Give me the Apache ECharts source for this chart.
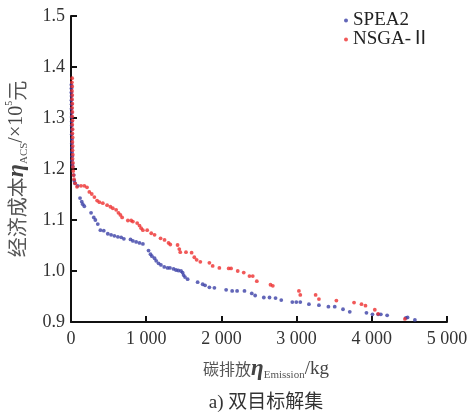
<!DOCTYPE html>
<html>
<head>
<meta charset="utf-8">
<script src="https://cdn.jsdelivr.net/npm/echarts@6/dist/echarts.min.js"></script>
<style>
  html, body { margin: 0; padding: 0; background: #fff; }
  #chart { width: 470px; height: 414px; }
</style>
</head>
<body>
<div id="chart"></div>
<script>
// Pareto fronts: carbon emission (kg) vs economic cost (x10^5 yuan)
const seriesNames = ['SPEA2', 'NSGA-Ⅱ'];

const spea2Points = [
  [5,1.365],[6,1.358],[5,1.350],[7,1.343],[6,1.335],[8,1.327],[7,1.318],[9,1.310],
  [8,1.302],[10,1.293],[9,1.285],[11,1.277],[10,1.268],[12,1.258],[11,1.250],[13,1.242],
  [12,1.233],[15,1.225],[14,1.217],[18,1.210],[23,1.205],[36,1.188],[44,1.177],[53,1.172],
  [89,1.167],[120,1.143],[143,1.136],[156,1.131],[177,1.127],[267,1.114],[303,1.105],
  [324,1.100],[356,1.092],[391,1.080],[436,1.079],[489,1.073],[533,1.071],[577,1.069],
  [623,1.067],[667,1.066],[703,1.063],[791,1.062],[823,1.059],[867,1.057],[911,1.055],
  [956,1.053],[1031,1.040],[1057,1.033],[1076,1.029],[1111,1.025],[1133,1.020],[1164,1.015],
  [1196,1.012],[1240,1.008],[1284,1.006],[1316,1.006],[1364,1.004],[1396,1.002],[1427,1.001],
  [1463,1.000],[1484,0.997],[1497,0.992],[1516,0.988],[1551,0.984],[1684,0.978],[1751,0.974],
  [1783,0.972],[1840,0.968],[1907,0.967],[2063,0.963],[2143,0.961],[2209,0.961],[2307,0.961],
  [2404,0.956],[2449,0.952],[2564,0.948],[2640,0.948],[2720,0.947],[2796,0.943],[2943,0.939],
  [2996,0.939],[3049,0.939],[3164,0.935],[3297,0.933],[3423,0.930],[3507,0.930],[3617,0.925],
  [3707,0.920],[3929,0.918],[4009,0.915],[4084,0.915],[4120,0.915],[4204,0.913],[4453,0.908],
  [4476,0.909],[4573,0.904]
];

const nsga2Points = [
  [15,1.378],[12,1.370],[16,1.362],[13,1.353],[17,1.345],[14,1.337],[18,1.328],[15,1.320],
  [19,1.312],[16,1.303],[20,1.295],[17,1.287],[21,1.278],[18,1.270],[22,1.262],[19,1.253],
  [23,1.245],[20,1.237],[24,1.228],[21,1.220],[26,1.212],[25,1.204],[30,1.196],[34,1.188],
  [40,1.180],[55,1.172],[80,1.165],[133,1.167],[177,1.167],[213,1.164],[244,1.155],[276,1.151],
  [311,1.145],[347,1.138],[377,1.135],[423,1.133],[480,1.129],[524,1.126],[556,1.123],
  [600,1.120],[631,1.114],[657,1.110],[680,1.105],[756,1.099],[800,1.099],[823,1.097],
  [880,1.094],[911,1.089],[933,1.084],[956,1.080],[1013,1.080],[1067,1.074],[1111,1.071],
  [1191,1.064],[1244,1.061],[1297,1.055],[1320,1.052],[1417,1.051],[1440,1.043],[1453,1.037],
  [1529,1.037],[1604,1.036],[1640,1.027],[1671,1.022],[1720,1.018],[1840,1.016],[1884,1.010],
  [1973,1.006],[2097,1.005],[2129,1.005],[2217,1.000],[2297,0.997],[2373,0.990],[2417,0.990],
  [2471,0.980],[2653,0.973],[2684,0.971],[3031,0.961],[3049,0.953],[3253,0.953],[3297,0.945],
  [3529,0.942],[3764,0.938],[3863,0.935],[3916,0.932],[4040,0.924],[4084,0.916],[4440,0.906]
];

const xTickLabels = ['0', '1 000', '2 000', '3 000', '4 000', '5 000'];
const yTickLabels = ['0.9', '1.0', '1.1', '1.2', '1.3', '1.4', '1.5'];

const SERIF = '"Liberation Serif", "Times New Roman", "Noto Sans CJK SC", serif';
const CJK = '"Noto Sans CJK SC", sans-serif';

const chart = echarts.init(document.getElementById('chart'));
chart.setOption({
  animation: false,
  backgroundColor: '#ffffff',
  grid: { left: 71, right: 23, top: 16, bottom: 92, containLabel: false, outerBoundsMode: 'none' },
  legend: {
    orient: 'vertical',
    left: 339, top: 6,
    itemGap: 0, itemWidth: 4, itemHeight: 4,
    icon: 'circle',
    textStyle: { fontFamily: SERIF, fontSize: 19, color: '#222', lineHeight: 18 },
    data: seriesNames
  },
  xAxis: {
    type: 'value', min: 0, max: 5000, interval: 1000,
    axisLine: { show: true, lineStyle: { color: '#111', width: 2 } },
    axisTick: { show: true, inside: true, length: 6, lineStyle: { color: '#111', width: 2 } },
    splitLine: { show: false },
    axisLabel: {
      margin: 8, fontFamily: SERIF, fontSize: 18, color: '#333',
      formatter: (v) => xTickLabels[Math.round(v / 1000)]
    },
    name: '{c|碳排放}{e|η}{s|Emission}{u|/kg}',
    nameLocation: 'middle', nameGap: 35,
    nameTextStyle: {
      padding: [0, 0, 0, 14],
      rich: {
        c: { fontFamily: CJK, fontSize: 16, color: '#555', lineHeight: 24 },
        e: { fontFamily: SERIF, fontStyle: 'italic', fontWeight: 'bold', fontSize: 23, color: '#444', lineHeight: 24 },
        s: { fontFamily: SERIF, fontSize: 11, color: '#555', lineHeight: 14, verticalAlign: 'bottom' },
        u: { fontFamily: SERIF, fontSize: 19, color: '#444', lineHeight: 24 }
      }
    }
  },
  yAxis: {
    type: 'value', min: 0.9, max: 1.5, interval: 0.1,
    axisLine: { show: true, lineStyle: { color: '#111', width: 2 } },
    axisTick: { show: true, inside: true, length: 6, lineStyle: { color: '#111', width: 2 } },
    splitLine: { show: false },
    axisLabel: {
      margin: 6, fontFamily: SERIF, fontSize: 18, color: '#333',
      formatter: (v) => yTickLabels[Math.round((v - 0.9) * 10)]
    },
    name: '{c|经济成本}{e|η}{s|ACS}{u|/×10}{p|5}{c|元}',
    nameLocation: 'middle', nameRotate: 90, nameGap: 41,
    nameTextStyle: {
      rich: {
        c: { fontFamily: CJK, fontSize: 20, color: '#555', lineHeight: 26 },
        e: { fontFamily: SERIF, fontStyle: 'italic', fontWeight: 'bold', fontSize: 24, color: '#444', lineHeight: 26 },
        s: { fontFamily: SERIF, fontSize: 11, color: '#555', lineHeight: 16, verticalAlign: 'bottom' },
        u: { fontFamily: SERIF, fontSize: 20, color: '#444', lineHeight: 26 },
        p: { fontFamily: SERIF, fontSize: 10, color: '#444', lineHeight: 16, verticalAlign: 'top' }
      }
    }
  },
  graphic: [{
    type: 'text', x: 266, y: 403,
    style: {
      text: 'a) 双目标解集',
      font: '19px "Liberation Serif", "Noto Sans CJK SC", serif',
      fill: '#333',
      align: 'center',
      verticalAlign: 'middle'
    }
  }],
  series: [
    {
      name: seriesNames[0], type: 'scatter', data: spea2Points,
      symbol: 'circle', symbolSize: 3.8,
      itemStyle: { color: '#3b40a6' }
    },
    {
      name: seriesNames[1], type: 'scatter', data: nsga2Points,
      symbol: 'circle', symbolSize: 3.8,
      itemStyle: { color: '#ee3030' }
    }
  ]
});
</script>
</body>
</html>
